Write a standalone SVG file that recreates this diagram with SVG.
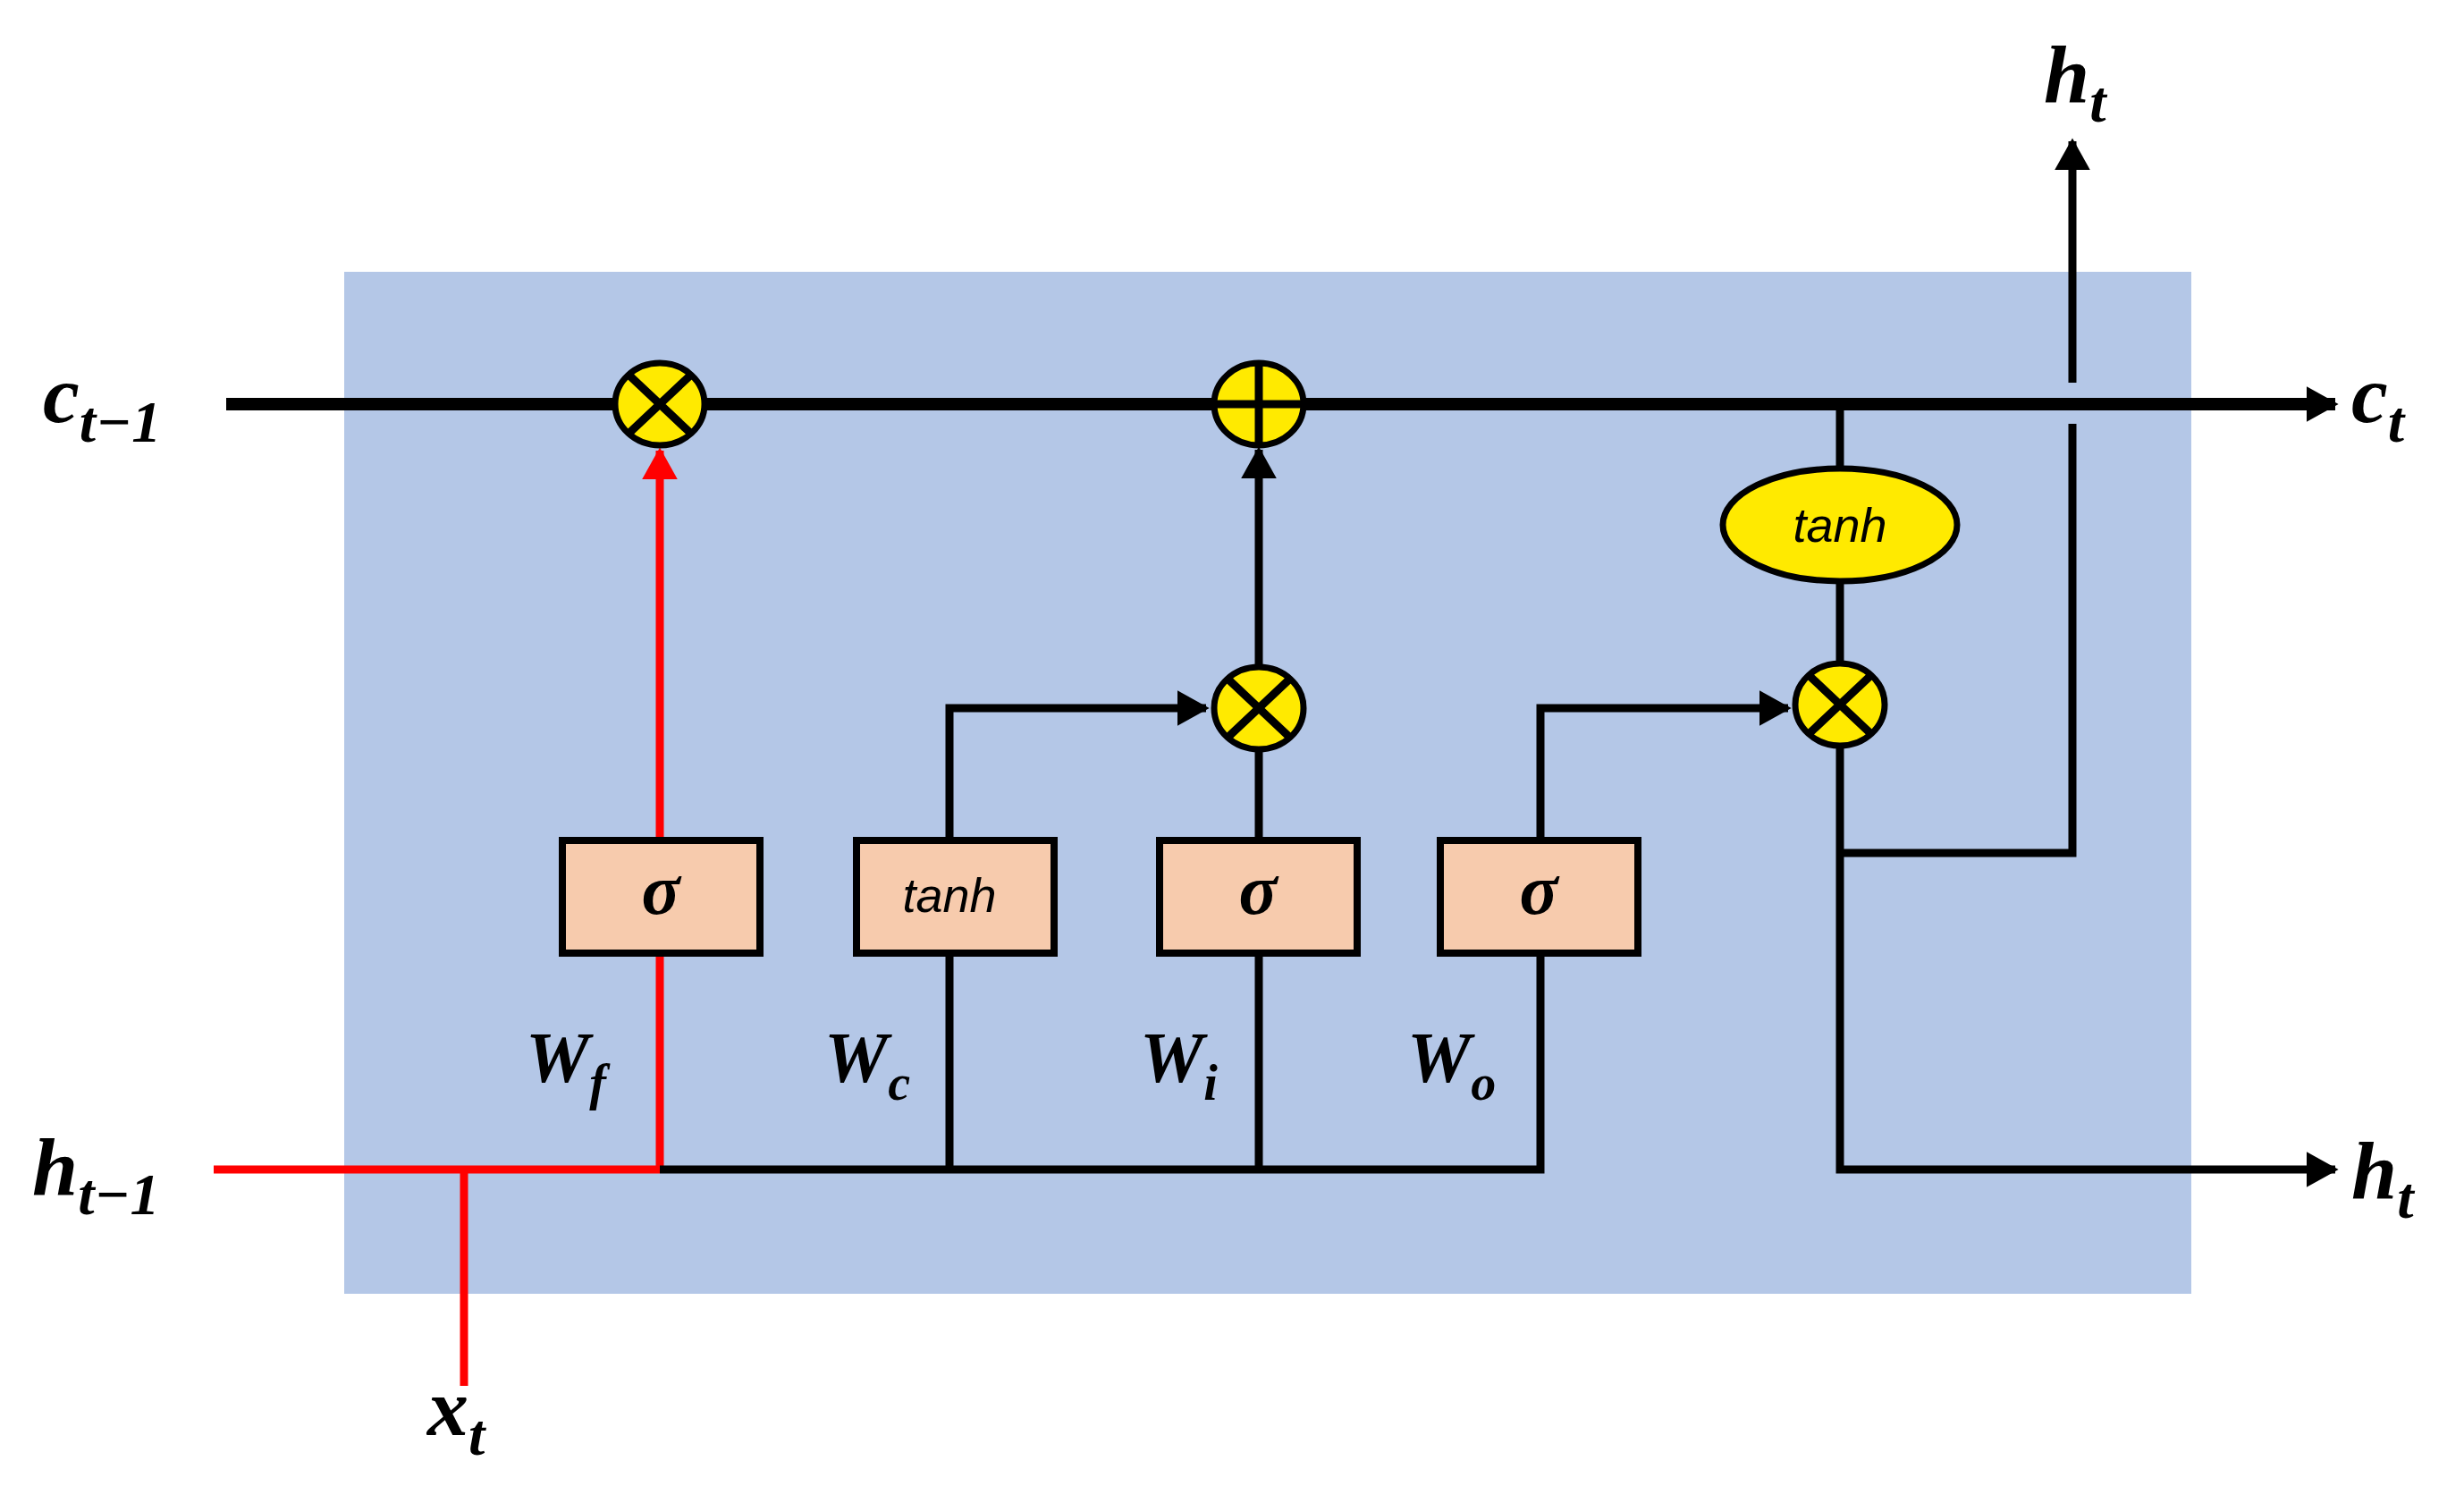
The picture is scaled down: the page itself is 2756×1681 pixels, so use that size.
<svg xmlns="http://www.w3.org/2000/svg" width="2756" height="1681" viewBox="0 0 2756 1681">
<style>
.ln{stroke:#000;stroke-width:9;fill:none}
.thick{stroke:#000;stroke-width:14;fill:none}
.red{stroke:#ff0000;stroke-width:9;fill:none}
.op{fill:#ffea00;stroke:#000;stroke-width:7}
.box{fill:#f7cbad;stroke:#000;stroke-width:8}
.m{font-family:"Liberation Serif",serif;font-style:italic;font-weight:bold;fill:#000}
.s{font-family:"Liberation Sans",sans-serif;font-style:italic;fill:#000}
</style>
<defs>
<marker id="ab" viewBox="0 0 10 10" refX="9" refY="5" markerWidth="5" markerHeight="5" orient="auto" markerUnits="userSpaceOnUse"><path d="M0,0L10,5L0,10z" fill="#000"/></marker>
<marker id="arr" viewBox="0 0 10 10" refX="9" refY="5" markerWidth="36" markerHeight="40" orient="auto" markerUnits="userSpaceOnUse" preserveAspectRatio="none"><path d="M0,0L10,5L0,10z" fill="#000"/></marker>
<marker id="arrR" viewBox="0 0 10 10" refX="9" refY="5" markerWidth="36" markerHeight="40" orient="auto" markerUnits="userSpaceOnUse" preserveAspectRatio="none"><path d="M0,0L10,5L0,10z" fill="#ff0000"/></marker>
</defs>
<rect x="385" y="304" width="2066" height="1143" fill="#b4c7e7"/>
<g id="connectors">
<line class="thick" x1="253" y1="452" x2="2612" y2="452" marker-end="url(#arr)"/>
<polyline class="red" points="239,1308 738,1308"/>
<line class="red" x1="519" y1="1308" x2="519" y2="1550"/>
<line class="red" x1="738" y1="1308" x2="738" y2="504" marker-end="url(#arrR)"/>
<polyline class="ln" points="738,1308 1723,1308 1723,1066"/>
<line class="ln" x1="1062" y1="1308" x2="1062" y2="1066"/>
<line class="ln" x1="1408" y1="1308" x2="1408" y2="1066"/>
<polyline class="ln" points="1062,940 1062,792 1349,792" marker-end="url(#arr)"/>
<line class="ln" x1="1408" y1="940" x2="1408" y2="840"/>
<line class="ln" x1="1408" y1="744" x2="1408" y2="503" marker-end="url(#arr)"/>
<polyline class="ln" points="1723,940 1723,792 2000,792" marker-end="url(#arr)"/>
<line class="ln" x1="2058" y1="452" x2="2058" y2="523"/>
<line class="ln" x1="2058" y1="651" x2="2058" y2="741"/>
<polyline class="ln" points="2058,835 2058,1308 2612,1308" marker-end="url(#arr)"/>
<polyline class="ln" points="2058,954 2318,954 2318,474"/>
<line class="ln" x1="2318" y1="428" x2="2318" y2="158" marker-end="url(#arr)"/>
</g>
<g id="mul_f"><ellipse class="op" cx="738" cy="452" rx="50" ry="46"/><path class="ln" stroke-width="6" d="M703,419L773,485M773,419L703,485"/></g>
<g id="add"><ellipse class="op" cx="1408" cy="452" rx="50" ry="46"/><path class="ln" stroke-width="6" d="M1408,406V498M1358,452H1458"/></g>
<g id="mul_i"><ellipse class="op" cx="1408" cy="792" rx="50" ry="46"/><path class="ln" stroke-width="6" d="M1373,759L1443,825M1443,759L1373,825"/></g>
<g id="mul_o"><ellipse class="op" cx="2058" cy="788" rx="50" ry="46"/><path class="ln" stroke-width="6" d="M2023,755L2093,821M2093,755L2023,821"/></g>
<g id="tanh_c"><ellipse class="op" cx="2058" cy="587" rx="131" ry="63"/><text class="s" x="2058" y="606" font-size="54" text-anchor="middle">tanh</text></g>
<g id="gate_f"><rect class="box" x="629" y="940" width="221" height="126"/><text class="m" x="739" y="1022" font-size="80" text-anchor="middle">σ</text></g>
<g id="gate_c"><rect class="box" x="958" y="940" width="221" height="126"/><text class="s" x="1062" y="1020" font-size="54" text-anchor="middle">tanh</text></g>
<g id="gate_i"><rect class="box" x="1297" y="940" width="221" height="126"/><text class="m" x="1407" y="1022" font-size="80" text-anchor="middle">σ</text></g>
<g id="gate_o"><rect class="box" x="1611" y="940" width="221" height="126"/><text class="m" x="1721" y="1022" font-size="80" text-anchor="middle">σ</text></g>
<g id="labels">
<text class="m" x="48" y="472" font-size="92">c<tspan font-size="66" dy="22">t−1</tspan></text>
<text class="m" x="2630" y="472" font-size="92">c<tspan font-size="66" dy="22">t</tspan></text>
<text class="m" x="36" y="1336" font-size="92">h<tspan font-size="66" dy="22">t−1</tspan></text>
<text class="m" x="2630" y="1340" font-size="92">h<tspan font-size="66" dy="22">t</tspan></text>
<text class="m" x="2286" y="114" font-size="92">h<tspan font-size="66" dy="22">t</tspan></text>
<text class="m" x="478" y="1605" font-size="92">x<tspan font-size="66" dy="22">t</tspan></text>
<text class="m" x="588" y="1210" font-size="80">W<tspan font-size="56" dy="20">f</tspan></text>
<text class="m" x="922" y="1210" font-size="80">W<tspan font-size="56" dy="20">c</tspan></text>
<text class="m" x="1275" y="1210" font-size="80">W<tspan font-size="56" dy="20">i</tspan></text>
<text class="m" x="1574" y="1210" font-size="80">W<tspan font-size="56" dy="20">o</tspan></text>
</g>
</svg>
